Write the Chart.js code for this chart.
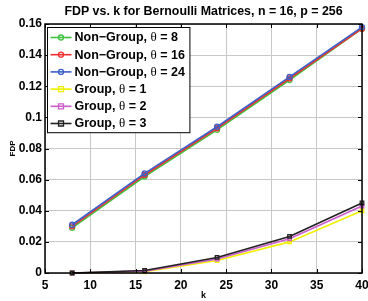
<!DOCTYPE html>
<html>
<head>
<meta charset="utf-8">
<script src="https://cdn.jsdelivr.net/npm/chart.js@4.4.0/dist/chart.umd.min.js"></script>
<style>
html, body { margin: 0; padding: 0; background: #fff; }
#wrap { width: 368px; height: 301px; }
</style>
</head>
<body>
<div id="wrap"><canvas id="mycanvas" width="368" height="301"></canvas></div>
<script>
// data
var kValues = [8, 16, 24, 32, 40];
var nonGroup8  = [0.029, 0.062, 0.092, 0.124, 0.157];
var nonGroup16 = [0.030, 0.063, 0.093, 0.125, 0.157];
var nonGroup24 = [0.031, 0.064, 0.094, 0.126, 0.158];
var group1 = [0, 0.0008, 0.008, 0.020, 0.040];
var group2 = [0, 0.0012, 0.009, 0.022, 0.043];
var group3 = [0, 0.0016, 0.010, 0.0235, 0.045];
var seriesLabels = ['Non\u2212Group, \u03b8 = 8', 'Non\u2212Group, \u03b8 = 16', 'Non\u2212Group, \u03b8 = 24',
	'Group, \u03b8 = 1', 'Group, \u03b8 = 2', 'Group, \u03b8 = 3'];
var xTicks = [5, 10, 15, 20, 25, 30, 35, 40];
var yTicks = [0, 0.02, 0.04, 0.06, 0.08, 0.1, 0.12, 0.14, 0.16];
var titleText = 'FDP vs. k for Bernoulli Matrices, n = 16, p = 256';

var colors = ['#3fc43f', '#ee3030', '#3a5fc8', '#f0f000', '#cc5ccc', '#222222'];
var shapes = ['circle', 'circle', 'circle', 'rect', 'rect', 'rect'];
var allSeries = [nonGroup8, nonGroup16, nonGroup24, group1, group2, group3];

var font = '"Liberation Sans", Arial, Helvetica, sans-serif';

function pts(arr){
	var out = [];
	for (var i in kValues) out.push({x: kValues[i], y: arr[i]});
	return out;
}

var datasets = [];
for (var i = 0; i < allSeries.length; i++) {
	datasets.push({
		label: seriesLabels[i],
		data: pts(allSeries[i]),
		order: allSeries.length - i, // last series on top, as in matlab
		clip: false,
		borderColor: colors[i],
		backgroundColor: 'rgba(0,0,0,0)',
		pointBorderColor: colors[i],
		pointBackgroundColor: 'rgba(0,0,0,0)',
		pointStyle: shapes[i],
		pointRadius: 2.5,
		pointBorderWidth: 1.3,
		borderWidth: 1.6,
		tension: 0
	});
}

// title, box, inward ticks and legend in MATLAB style
var boxPlugin = {
	id: 'box',
	afterDraw: function(chart){
		var c = chart.ctx, a = chart.chartArea;
		var xs = chart.scales.x, ys = chart.scales.y;
		c.save();
		c.fillStyle = '#000';
		c.font = 'bold 12.4px ' + font;
		c.textAlign = 'center';
		c.textBaseline = 'middle';
		c.fillText(titleText, (a.left + a.right) / 2, 12);
		c.textAlign = 'left';

		c.strokeStyle = '#000';
		c.lineWidth = 1.5;
		c.strokeRect(a.left, a.top, a.right - a.left, a.bottom - a.top);
		c.lineWidth = 1;
		xTicks.forEach(function(v){
			var px = Math.round(xs.getPixelForValue(v)) + 0.5;
			c.beginPath(); c.moveTo(px, a.bottom); c.lineTo(px, a.bottom - 4);
			c.moveTo(px, a.top); c.lineTo(px, a.top + 4); c.stroke();
		});
		yTicks.forEach(function(v){
			var py = Math.round(ys.getPixelForValue(v)) + 0.5;
			c.beginPath(); c.moveTo(a.left, py); c.lineTo(a.left + 4, py);
			c.moveTo(a.right, py); c.lineTo(a.right - 4, py); c.stroke();
		});

		// legend (theta drawn in a serif face, like the original)
		var bold = 'bold 12.5px ' + font;
		var greek = '13px "Liberation Serif", "DejaVu Serif", serif';
		function labelWidth(s){
			var parts = s.split('\u03b8'), w = 0;
			c.font = bold; w += c.measureText(parts[0]).width + c.measureText(parts[1]).width;
			c.font = greek; w += c.measureText('\u03b8').width;
			return w;
		}
		var maxW = 0;
		seriesLabels.forEach(function(s){ maxW = Math.max(maxW, labelWidth(s)); });
		var bx = 47.5, by = 27.5, rowH = 17.2;
		var bw = 27 + maxW + 5, bh = rowH * 6 + 2;
		c.fillStyle = '#fff';
		c.fillRect(bx, by, bw, bh);
		c.strokeStyle = '#000';
		c.lineWidth = 1;
		c.strokeRect(bx, by, bw, bh);
		for (var i = 0; i < 6; i++) {
			var cy = by + 10 + i * rowH;
			c.strokeStyle = colors[i];
			c.lineWidth = 1.6;
			c.beginPath(); c.moveTo(bx + 3, cy); c.lineTo(bx + 24, cy); c.stroke();
			c.lineWidth = 1.3;
			c.beginPath();
			if (shapes[i] == 'circle') c.arc(bx + 13.5, cy, 2.5, 0, Math.PI * 2);
			else c.rect(bx + 11, cy - 2.5, 5, 5);
			c.stroke();
			c.fillStyle = '#000';
			c.textBaseline = 'middle';
			var parts = seriesLabels[i].split('\u03b8');
			var tx = bx + 27;
			c.font = bold; c.fillText(parts[0], tx, cy + 0.5); tx += c.measureText(parts[0]).width;
			c.font = greek; c.fillText('\u03b8', tx, cy + 0.5); tx += c.measureText('\u03b8').width;
			c.font = bold; c.fillText(parts[1], tx, cy + 0.5);
		}
		c.restore();
	}
};

var ctx = document.getElementById('mycanvas');
var chart = new Chart(ctx, {
	type: 'line',
	data: { datasets: datasets },
	plugins: [boxPlugin],
	options: {
		responsive: false,
		animation: false,
		devicePixelRatio: 1,
		layout: { padding: { left: 0, right: 6, top: 24, bottom: 0 } },
		plugins: {
			legend: { display: false },
			tooltip: { enabled: false },
			title: { display: false }
		},
		scales: {
			x: {
				type: 'linear',
				min: 5, max: 40,
				afterBuildTicks: function(s){ s.ticks = xTicks.map(function(v){ return {value: v}; }); },
				afterFit: function(s){ s.height = 28; s.paddingLeft = 0; s.paddingRight = 0; },
				grid: { color: '#c8c8c8', borderDash: [1, 2], drawTicks: false, lineWidth: 1 },
				border: { display: false },
				ticks: { color: '#000', padding: 5, maxRotation: 0, font: { family: font, size: 12, weight: 'bold' } },
				title: { display: true, text: 'k', color: '#000', padding: 0, font: { family: font, size: 9, weight: 'bold' } }
			},
			y: {
				type: 'linear',
				min: 0, max: 0.16,
				afterBuildTicks: function(s){ s.ticks = yTicks.map(function(v){ return {value: v}; }); },
				afterFit: function(s){ s.width = 45; s.paddingTop = 0; s.paddingBottom = 0; },
				grid: { color: '#c8c8c8', borderDash: [1, 2], drawTicks: false, lineWidth: 1 },
				border: { display: false },
				ticks: {
					color: '#000', padding: 3,
					font: { family: font, size: 12, weight: 'bold' },
					callback: function(v){ return String(Number(v.toFixed(2))); }
				},
				title: { display: true, text: 'FDP', color: '#000', padding: { top: 8, bottom: 0 }, font: { family: font, size: 8, weight: 'bold' } }
			}
		}
	}
});
</script>
</body>
</html>
